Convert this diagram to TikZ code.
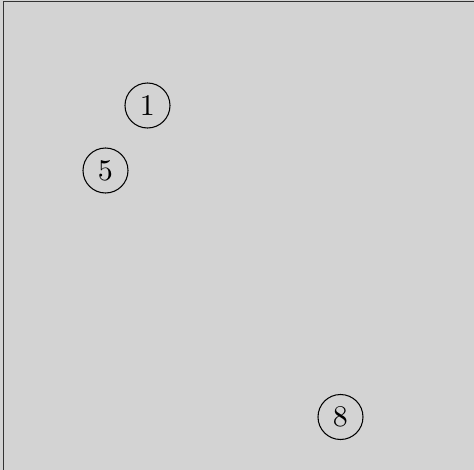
\documentclass[tikz,border=0pt]{standalone}
\definecolor{bggray}{RGB}{211,211,211}
\begin{document}
\begin{tikzpicture}[x=0.33333pt,y=-0.33333pt,
  num/.style={circle,draw=black,line width=0.35pt,minimum size=15pt,inner sep=0pt,font=\normalsize}]
\useasboundingbox (0,0) rectangle (474,470);
\clip (0,0) rectangle (474,470);
\fill[bggray] (-5,-5) rectangle (480,480);
\draw[black!80,line width=0.4pt] (3.5,1.5) rectangle (490,490);
\node[num] (n1) at (147.5,105.5) {1};
\node[num] (n5) at (105.5,170.5) {5};
\node[num] (n8) at (340.5,417) {8};
\end{tikzpicture}
\end{document}
